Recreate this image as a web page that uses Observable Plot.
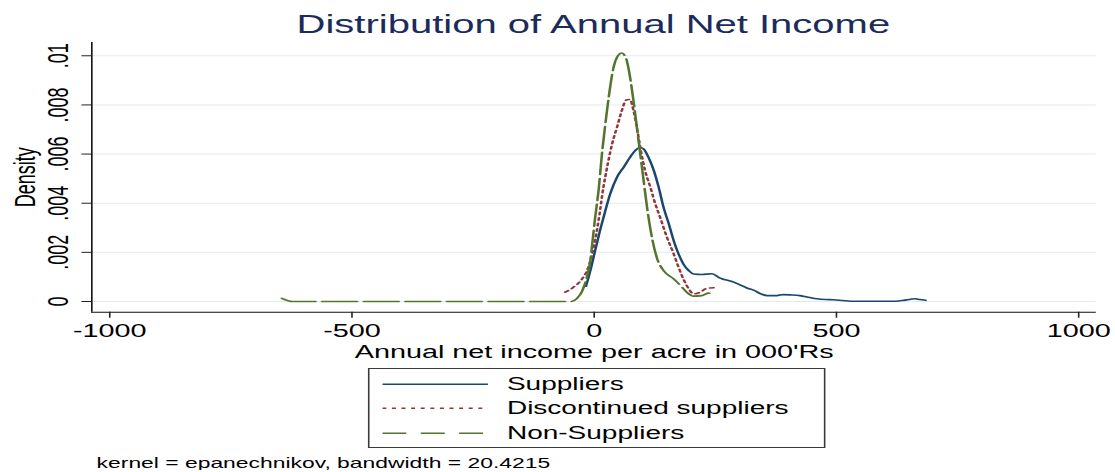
<!DOCTYPE html>
<html>
<head>
<meta charset="utf-8">
<script src="https://cdn.jsdelivr.net/npm/d3@7"></script>
<script src="https://cdn.jsdelivr.net/npm/@observablehq/plot@0.6"></script>
<style>
  html, body { margin: 0; padding: 0; background: #fff; overflow: hidden; }
  #wrap { width: 697px; transform-origin: 0 0; font-family: "Liberation Sans", Arial, sans-serif; color: #000; }
  #title { margin: 0; padding-top: 12px; height: 28px; line-height: 25px; font-size: 25px; font-weight: normal; color: #1c2c5a; text-align: center; padding-left: 56.9px; padding-right: 12px; box-sizing: content-box; width: 628.1px; }
  #chart svg { display: block; }
  #legend { margin-left: 230px; margin-top: 6px; width: 286.3px; height: 80px; box-sizing: border-box; border: 1px solid #3a3a3a; padding: 2.75px 0 0 7.75px; }
  .row { display: flex; align-items: center; height: 24.5px; }
  .row span { margin-left: 11.9px; font-size: 17.5px; line-height: 24.5px; white-space: nowrap; }
  #note { margin-left: 60.4px; margin-top: 8.4px; font-size: 14.3px; line-height: 14px; white-space: nowrap; }
</style>
</head>
<body>
<div id="wrap">
  <div id="title"></div>
  <div id="chart"></div>
  <div id="legend"></div>
  <div id="note"></div>
</div>
<script>
// ---- Text ----
const titleText = "Distribution of Annual Net Income";
const xLabel = "Annual net income per acre in 000'Rs";
const yLabel = "Density";
const noteText = "kernel = epanechnikov, bandwidth = 20.4215";

// ---- Ticks ----
const xTicks = [-1000, -500, 0, 500, 1000];
const yTicks = [0, 0.002, 0.004, 0.006, 0.008, 0.01];
const xDomain = [-1037, 1037];
const yDomain = [-0.000435, 0.01054];

// ---- Series names and styles ----
const seriesNames = ["Suppliers", "Discontinued suppliers", "Non-Suppliers"];
const seriesColors = ["#1a476f", "#90353b", "#55752f"];
const seriesDash = [null, "2.5,3", "22,4"];
const legendDash = [null, "2.5,3.5", "15,9"];

// ---- Suppliers ----
const supX = [-17, -8, 2, 12, 23, 33, 47, 61, 74, 85, 94, 102, 112, 123, 133, 143, 154, 164, 174, 184, 195, 205, 222, 243, 260, 288, 302, 315, 329, 343, 357, 377, 390, 405, 425, 445, 460, 478, 494, 512, 529, 560, 590, 618, 635, 646, 656, 663, 672, 684];
const supY = [0.00062, 0.00126, 0.00208, 0.00289, 0.00370, 0.00438, 0.00506, 0.00547, 0.00587, 0.00615, 0.00627, 0.00621, 0.00587, 0.00533, 0.00465, 0.00384, 0.00316, 0.00248, 0.00194, 0.00153, 0.00126, 0.00112, 0.00110, 0.00113, 0.00095, 0.00079, 0.00067, 0.00055, 0.00046, 0.00032, 0.00024, 0.00024, 0.00028, 0.00027, 0.00024, 0.00016, 0.00011, 0.00008, 0.00007, 0.00004, 0.00001, 0.00001, 0.00001, 0.00001, 0.00004, 0.00007, 0.00010, 0.00011, 0.00008, 0.00005];

// ---- Discontinued suppliers ----
const discX = [-60, -43, -25, -12, -1, 9, 19, 28, 37, 47, 57, 66, 74, 81, 88, 95, 105, 116, 126, 136, 150, 164, 174, 184, 195, 205, 219, 233, 250];
const discY = [0.00038, 0.00058, 0.00092, 0.00140, 0.00221, 0.00330, 0.00465, 0.00560, 0.00642, 0.00709, 0.00777, 0.00820, 0.00822, 0.00777, 0.00709, 0.00628, 0.00533, 0.00465, 0.00398, 0.00343, 0.00262, 0.00194, 0.00140, 0.00092, 0.00052, 0.00031, 0.00038, 0.00054, 0.00056];

// ---- Non-Suppliers ----
const nonX = [-645, -622, -48, -36, -25, -15, -8, -4, 2, 9, 16, 23, 30, 40, 47, 57, 66, 74, 81, 88, 95, 102, 109, 119, 129, 143, 164, 178, 191, 205, 222, 236, 246];
const nonY = [0.00013, 0.0, 0.0, 0.00012, 0.00042, 0.00100, 0.00167, 0.00235, 0.00343, 0.00452, 0.00601, 0.00723, 0.00832, 0.00954, 0.00994, 0.01011, 0.00988, 0.00913, 0.00818, 0.00709, 0.00601, 0.00492, 0.00384, 0.00262, 0.00180, 0.00126, 0.00092, 0.00065, 0.00038, 0.00022, 0.00024, 0.00034, 0.00024];

const seriesX = [supX, discX, nonX];
const seriesY = [supY, discY, nonY];

// ---- Layout ----
const W = 697;
const S = 1115 / W;
document.getElementById("wrap").style.transform = `scaleX(${S})`;
document.getElementById("title").textContent = titleText;
document.getElementById("note").textContent = noteText;

const yFmt = d => d === 0 ? "0" : d3.format(".3~f")(d).replace(/^0/, "");

const lineMarks = seriesNames.map((name, i) => {
  const rows = seriesX[i].map((x, j) => ({x, y: seriesY[i][j], series: name}));
  return Plot.line(rows, {
    x: "x", y: "y",
    stroke: seriesColors[i],
    strokeWidth: 1.6,
    strokeDasharray: seriesDash[i] || undefined,
    curve: "monotone-x"
  });
});

const chart = Plot.plot({
  width: W,
  height: 322,
  marginTop: 2,
  marginBottom: 50.3,
  marginLeft: 56.9,
  marginRight: 12,
  x: {domain: xDomain},
  y: {domain: yDomain},
  style: {fontFamily: "'Liberation Sans', Arial, sans-serif", fontSize: "18px", color: "#000", background: "#fff", overflow: "visible"},
  marks: [
    Plot.gridY(yTicks, {stroke: "#e2eaee", strokeOpacity: 1, strokeWidth: 1}),
    Plot.ruleX([xDomain[0]], {stroke: "#111", strokeWidth: 1}),
    Plot.ruleY([yDomain[0]], {stroke: "#111", strokeWidth: 1}),
    Plot.axisY(yTicks, {
      tickFormat: yFmt, tickSize: 6, tickPadding: 9, tickRotate: -90,
      stroke: "#222", fontSize: 18,
      label: yLabel, labelAnchor: "center", labelOffset: 48.4, labelArrow: "none"
    }),
    Plot.axisX(xTicks, {
      tickFormat: d => String(d), tickSize: 6, tickPadding: 6.3,
      stroke: "#222", fontSize: 18,
      label: xLabel, labelAnchor: "center", labelOffset: 45.5, labelArrow: "none"
    }),
    ...lineMarks
  ]
});
document.getElementById("chart").appendChild(chart);

// ---- Legend ----
const legend = document.getElementById("legend");
seriesNames.forEach((name, i) => {
  const row = document.createElement("div");
  row.className = "row";
  const ns = "http://www.w3.org/2000/svg";
  const svg = document.createElementNS(ns, "svg");
  svg.setAttribute("width", "66.25");
  svg.setAttribute("height", "24.5");
  const ln = document.createElementNS(ns, "line");
  ln.setAttribute("x1", 0); ln.setAttribute("x2", 66.25);
  ln.setAttribute("y1", 12.25); ln.setAttribute("y2", 12.25);
  ln.setAttribute("stroke", seriesColors[i]);
  ln.setAttribute("stroke-width", 1.4);
  if (legendDash[i]) ln.setAttribute("stroke-dasharray", legendDash[i]);
  svg.appendChild(ln);
  const span = document.createElement("span");
  span.textContent = name;
  row.appendChild(svg);
  row.appendChild(span);
  legend.appendChild(row);
});
</script>
</body>
</html>
